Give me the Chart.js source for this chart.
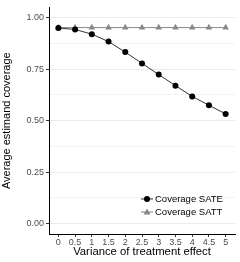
<!DOCTYPE html>
<html>
<head>
<meta charset="utf-8">
<script src="https://cdn.jsdelivr.net/npm/chart.js@4/dist/chart.umd.min.js"></script>
<style>
  html, body { margin: 0; padding: 0; background: #fff; }
  #wrap { width: 240px; height: 262px; }
</style>
</head>
<body>
<div id="wrap"><canvas id="c" width="240" height="262"></canvas></div>
<script>
// data
const variances = [0, 0.5, 1, 1.5, 2, 2.5, 3, 3.5, 4, 4.5, 5];
const coverageSATE = [0.950, 0.943, 0.920, 0.884, 0.833, 0.778, 0.724, 0.670, 0.618, 0.575, 0.533];
const coverageSATT = [0.952, 0.952, 0.952, 0.952, 0.952, 0.952, 0.952, 0.952, 0.952, 0.952, 0.952];
const seriesLabels = ["Coverage SATE", "Coverage SATT"];
const xTicks = [0, 0.5, 1, 1.5, 2, 2.5, 3, 3.5, 4, 4.5, 5];
const yTicks = [0, 0.125, 0.25, 0.375, 0.5, 0.625, 0.75, 0.875, 1];

const toPts = (ys) => variances.map((x, i) => ({ x: x, y: ys[i] }));
const isMajor = (v) => Math.abs(v * 4 - Math.round(v * 4)) < 1e-6;
const FONT = '"Liberation Sans", Arial, sans-serif';

// legend drawn inside the panel, bottom right
const insideLegend = {
  id: 'insideLegend',
  afterDraw(chart) {
    const ctx = chart.ctx;
    const items = [
      { label: seriesLabels[0], color: '#000', line: '#333', shape: 'circle', y: 199 },
      { label: seriesLabels[1], color: '#888', line: '#888', shape: 'triangle', y: 212 }
    ];
    ctx.save();
    items.forEach(it => {
      ctx.strokeStyle = it.line;
      ctx.lineWidth = 1;
      ctx.beginPath();
      ctx.moveTo(141, it.y);
      ctx.lineTo(153, it.y);
      ctx.stroke();
      ctx.fillStyle = it.color;
      ctx.beginPath();
      if (it.shape === 'circle') {
        ctx.arc(147, it.y, 3, 0, Math.PI * 2);
      } else {
        ctx.moveTo(147, it.y - 3.5);
        ctx.lineTo(150.5, it.y + 2.5);
        ctx.lineTo(143.5, it.y + 2.5);
        ctx.closePath();
      }
      ctx.fill();
      ctx.fillStyle = '#000';
      ctx.font = '9.5px ' + FONT;
      ctx.textBaseline = 'middle';
      ctx.fillText(it.label, 155, it.y);
    });
    ctx.restore();
  }
};

new Chart(document.getElementById('c'), {
  type: 'line',
  data: {
    datasets: [
      {
        label: seriesLabels[0],
        data: toPts(coverageSATE),
        borderColor: '#333',
        borderWidth: 1,
        pointStyle: 'circle',
        pointRadius: 3,
        pointBackgroundColor: '#000',
        pointBorderColor: '#000',
        pointBorderWidth: 0,
        order: 1
      },
      {
        label: seriesLabels[1],
        data: toPts(coverageSATT),
        borderColor: '#888',
        borderWidth: 1,
        pointStyle: 'triangle',
        pointRadius: 3.8,
        pointBackgroundColor: '#888',
        pointBorderColor: '#888',
        pointBorderWidth: 0,
        order: 2
      }
    ]
  },
  options: {
    responsive: false,
    animation: false,
    devicePixelRatio: 1,
    layout: { padding: { top: 3, right: 5, left: 0, bottom: 0 } },
    plugins: {
      legend: { display: false },
      tooltip: { enabled: false }
    },
    scales: {
      x: {
        type: 'linear',
        min: -0.28,
        max: 5.28,
        afterBuildTicks: (s) => { s.ticks = xTicks.map(v => ({ value: v })); },
        afterFit: (s) => { s.height = 28; },
        grid: {
          drawOnChartArea: false,
          color: 'rgba(0,0,0,0)',
          tickColor: '#333',
          tickLength: 3
        },
        border: { display: true, color: '#000', width: 1 },
        ticks: {
          color: '#4d4d4d',
          font: { size: 9, family: FONT },
          padding: 0,
          maxRotation: 0,
          autoSkip: false,
          callback: (v) => String(v)
        },
        title: {
          display: true,
          text: 'Variance of treatment effect',
          color: '#000',
          font: { size: 11.3, family: FONT },
          padding: { top: 0, bottom: 3 }
        }
      },
      y: {
        type: 'linear',
        min: -0.05,
        max: 1.05,
        afterBuildTicks: (s) => { s.ticks = yTicks.map(v => ({ value: v })); },
        afterFit: (s) => { s.width = 49; },
        grid: {
          color: '#ebebeb',
          lineWidth: (c) => isMajor(c.tick.value) ? 1 : 0.6,
          tickColor: (c) => isMajor(c.tick.value) ? '#333' : 'rgba(0,0,0,0)',
          tickLength: 3
        },
        border: { display: true, color: '#000', width: 1 },
        ticks: {
          color: '#4d4d4d',
          font: { size: 9, family: FONT },
          padding: 2,
          autoSkip: false,
          callback: (v) => isMajor(v) ? v.toFixed(2) : ''
        },
        title: {
          display: true,
          text: 'Average estimand coverage',
          color: '#000',
          font: { size: 11, family: FONT },
          padding: { top: 0, bottom: 2 }
        }
      }
    }
  },
  plugins: [insideLegend]
});
</script>
</body>
</html>
